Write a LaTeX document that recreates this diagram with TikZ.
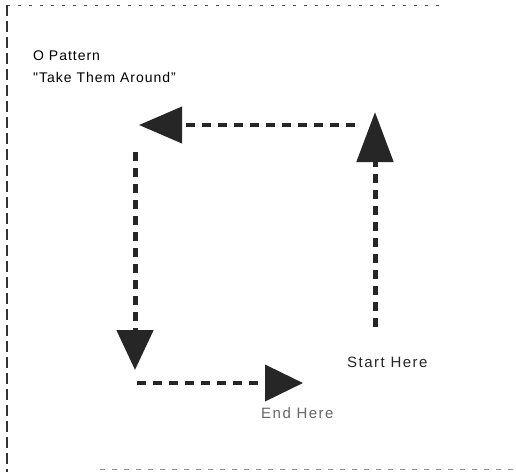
\documentclass[tikz,border=0pt]{standalone}
\usepackage{fontspec}
\setmainfont{Liberation Sans}
\newfontfamily\titlefont{Liberation Sans}[LetterSpace=7]
\newfontfamily\notefont{Liberation Sans}[LetterSpace=10]
\usetikzlibrary{arrows.meta}

\tikzset{
    route/.style={line width=5pt, black!85, dash pattern=on 9pt off 7pt,
        -{Triangle[length=#1,width=36pt]}},
    route/.default=44pt,
    label/.style={inner sep=0pt, anchor=base west},
    title/.style={label, font=\titlefont\fontsize{14}{16}\selectfont},
    note/.style={label, font=\notefont\fontsize{15}{17}\selectfont},
}

\begin{document}
\begin{tikzpicture}[x=1pt,y=-1pt]
    \useasboundingbox (0,0) rectangle (516,472);

    % frame
    \draw[black!70, line width=1pt, dash pattern=on 3pt off 8pt] (7,5) -- (440,5);
    \draw[black!80, line width=1.3pt, dash pattern=on 11pt off 5pt] (7,5) -- (7,472);
    \draw[black!45, line width=1pt, dash pattern=on 5pt off 7pt] (100,469) -- (516,469);

    \node[title] (heading) at (33,60) {O Pattern};
    \node[title] (subheading) at (33,82) {"Take Them Around”};

    % corners of the loop
    \coordinate (rb) at (375,327);
    \coordinate (rt) at (375,112);
    \coordinate (tr) at (355,125);
    \coordinate (tl) at (139,125);
    \coordinate (lt) at (135,152);
    \coordinate (lb) at (135,370);
    \coordinate (bl) at (137,383);
    \coordinate (br) at (303,383);

    \draw[route=50pt] (rb) -- (rt);
    \draw[route=43pt, line width=4pt] (tr) -- (tl);
    \draw[route=40pt] (lt) -- (lb);
    \draw[route=38pt, line width=4pt] (bl) -- (br);

    \node[note, black!85] (start) at (347,367) {Start Here};
    \node[note, black!60] (finish) at (261,418) {End Here};
\end{tikzpicture}
\end{document}
